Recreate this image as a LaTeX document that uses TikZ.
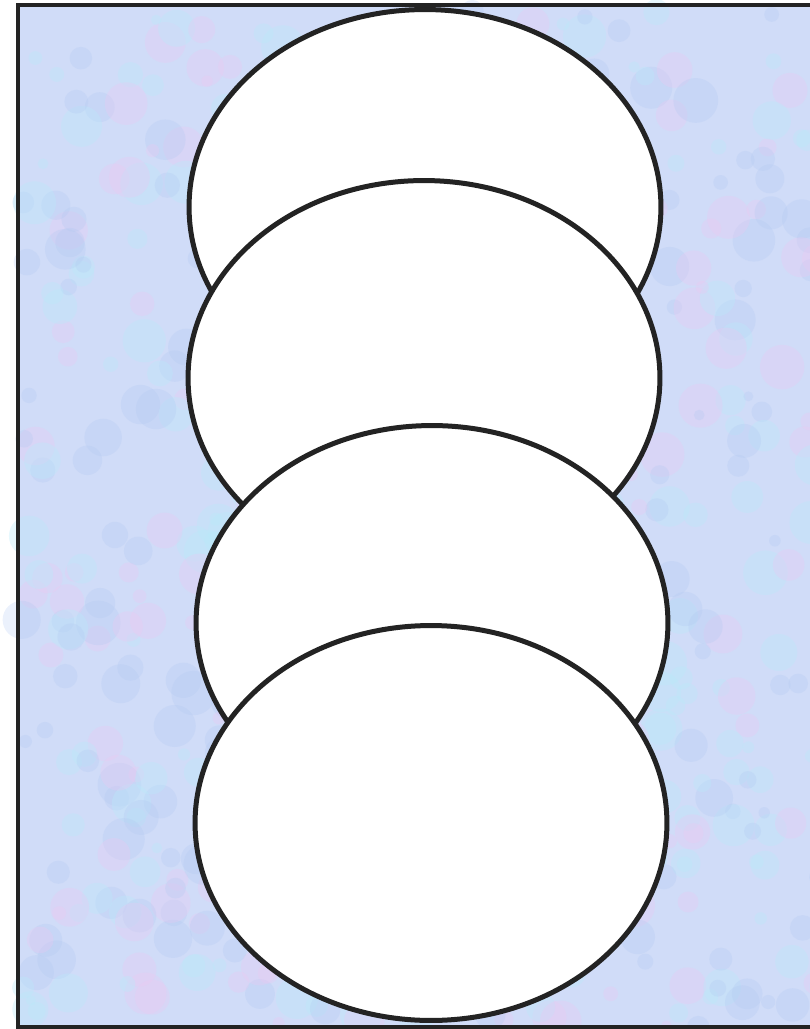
\documentclass[tikz,border=0pt]{standalone}
\usepackage{xcolor}
\definecolor{fundo}{RGB}{208,220,248}
\definecolor{rosa}{RGB}{236,200,242}
\definecolor{ciano}{RGB}{186,234,250}
\definecolor{azulc}{RGB}{176,200,242}
\definecolor{contorno}{RGB}{35,35,35}
\usetikzlibrary{shapes.geometric}

\begin{document}
\begin{tikzpicture}[
    x=0.02cm, y=-0.02cm,
    bolha/.style={ellipse, draw=contorno, fill=white, line width=0.1cm,
                  minimum width=9.44cm, minimum height=7.9cm, inner sep=0pt},
    moldura/.style={draw=contorno, line width=0.08cm}
  ]
  \clip (0,0) rectangle (810,1029);
  \useasboundingbox (0,0) rectangle (810,1029);

  % Background texture
  \fill[fundo] (18,5) rectangle (830,1027);
  \pgfmathsetseed{7}
  \foreach \i in {1,...,700} {
    \pgfmathsetmacro{\bx}{20+800*rnd}
    \pgfmathsetmacro{\by}{8+1020*rnd}
    \pgfmathsetmacro{\br}{0.1+0.35*rnd}
    \pgfmathtruncatemacro{\bc}{3*rnd}
    \ifcase\bc
      \fill[rosa, opacity=0.3] (\bx,\by) circle[radius=\br cm];
    \or
      \fill[ciano, opacity=0.35] (\bx,\by) circle[radius=\br cm];
    \else
      \fill[azulc, opacity=0.25] (\bx,\by) circle[radius=\br cm];
    \fi
  }
  \draw[moldura] (18,5) rectangle (830,1027);

  % Stacked ellipses (top to bottom)
  \node[bolha] (e1) at (425,207) {};
  \node[bolha] (e2) at (424,378) {};
  \node[bolha] (e3) at (432,623) {};
  \node[bolha] (e4) at (431,823) {};
\end{tikzpicture}
\end{document}
